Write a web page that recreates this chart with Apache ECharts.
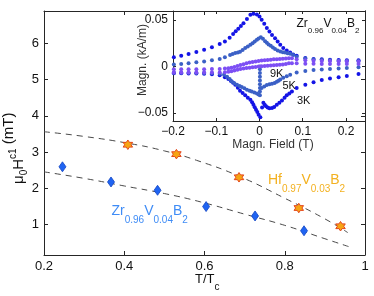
<!DOCTYPE html>
<html><head><meta charset="utf-8">
<script src="https://cdn.jsdelivr.net/npm/echarts@6/dist/echarts.min.js"></script>
<style>html,body{margin:0;padding:0;background:#fff}#c{width:374px;height:296px}</style>
</head><body><div id="c"></div>
<script>
// ---- main plot data ----
const xTicks = [0.2, 0.4, 0.6, 0.8, 1];
const yTicks = [1, 2, 3, 4, 5, 6];
const zrT = [0.246, 0.367, 0.483, 0.604, 0.726, 0.848];
const zrH = [2.59, 2.17, 1.94, 1.49, 1.23, 0.82];
const hfT = [0.409, 0.53, 0.686, 0.835, 0.939];
const hfH = [3.20, 2.94, 2.30, 1.45, 0.945];
const zrFitT = [0.2, 0.3, 0.4, 0.5, 0.59, 0.7, 0.8, 0.9, 0.96];
const zrFitH = [2.45, 2.27, 2.06, 1.85, 1.62, 1.28, 0.97, 0.6, 0.38];
const hfFitT = [0.2, 0.3, 0.41, 0.5, 0.58, 0.686, 0.8, 0.9, 0.957];
const hfFitH = [3.56, 3.43, 3.24, 3.03, 2.77, 2.33, 1.72, 1.15, 0.77];
// ---- inset data (field T, magnetization kA/m) ----
const insetXTicks = [-0.2, -0.1, 0, 0.1, 0.2];
const insetYTicks = [-0.05, 0, 0.05];
const loop3KUp = [[0.229,0.0066],[0.202,0.0068],[0.183,0.007],[0.163,0.0073],[0.144,0.0077],[0.125,0.0082],[0.106,0.0092],[0.086,0.0115],[0.078,0.013],[0.071,0.015],[0.063,0.0172],[0.055,0.0198],[0.048,0.0233],[0.042,0.0269],[0.036,0.0305],[0.029,0.034],[0.023,0.0376],[0.017,0.0413],[0.011,0.046],[0.005,0.0502],[0.0,0.0538],[-0.006,0.056],[-0.014,0.0567],[-0.021,0.0556],[-0.029,0.051],[-0.037,0.0465],[-0.043,0.0435],[-0.049,0.0405],[-0.055,0.038],[-0.061,0.035],[-0.069,0.031],[-0.080,0.027],[-0.092,0.0242],[-0.110,0.0206],[-0.128,0.018],[-0.146,0.0156],[-0.164,0.0134],[-0.181,0.0116],[-0.198,0.0099]];
const loop3KDown = [[-0.198,-0.0072],[-0.181,-0.0073],[-0.164,-0.0074],[-0.146,-0.0076],[-0.128,-0.0079],[-0.110,-0.0084],[-0.092,-0.0095],[-0.080,-0.0115],[-0.072,-0.0135],[-0.066,-0.0155],[-0.061,-0.0175],[-0.056,-0.0196],[-0.050,-0.0228],[-0.045,-0.026],[-0.039,-0.0285],[-0.033,-0.031],[-0.027,-0.0335],[-0.021,-0.0357],[-0.017,-0.0385],[-0.014,-0.041],[-0.011,-0.0438],[-0.008,-0.0465],[-0.005,-0.049],[-0.002,-0.052],[0.002,-0.0546],[0.006,-0.044],[0.009,-0.039],[0.012,-0.041],[0.015,-0.0428],[0.019,-0.044],[0.023,-0.045],[0.029,-0.0445],[0.034,-0.0435],[0.040,-0.041],[0.046,-0.039],[0.052,-0.0365],[0.058,-0.0335],[0.063,-0.031],[0.069,-0.029],[0.075,-0.027],[0.086,-0.023],[0.106,-0.0195],[0.125,-0.017],[0.144,-0.0145],[0.163,-0.013],[0.183,-0.0115],[0.202,-0.0102],[0.229,-0.008]];
const loop5KUp = [[-0.198,0.0022],[-0.181,0.0028],[-0.164,0.0035],[-0.146,0.0045],[-0.128,0.0055],[-0.110,0.0066],[-0.092,0.0082],[-0.080,0.010],[-0.068,0.0124],[-0.062,0.0135],[-0.056,0.0144],[-0.050,0.0152],[-0.045,0.016],[-0.039,0.0178],[-0.033,0.0198],[-0.027,0.0216],[-0.021,0.0233],[-0.016,0.025],[-0.011,0.0268],[-0.006,0.0287],[-0.002,0.0302],[0.003,0.0314],[0.008,0.0298],[0.013,0.0272],[0.017,0.0256],[0.021,0.0238],[0.026,0.0222],[0.031,0.0205],[0.036,0.0188],[0.042,0.0173],[0.048,0.0162],[0.054,0.0154],[0.059,0.015],[0.065,0.0143],[0.071,0.0137],[0.078,0.0125],[0.086,0.0105],[0.106,0.0085],[0.125,0.0075],[0.144,0.007],[0.163,0.0066],[0.183,0.0063],[0.202,0.006],[0.229,0.0058]];
const loop5KDown = [[-0.198,-0.0068],[-0.181,-0.0068],[-0.164,-0.0068],[-0.146,-0.0069],[-0.128,-0.007],[-0.110,-0.0072],[-0.092,-0.0078],[-0.082,-0.0088],[-0.075,-0.011],[-0.069,-0.0135],[-0.064,-0.016],[-0.058,-0.018],[-0.052,-0.0197],[-0.046,-0.021],[-0.041,-0.022],[-0.035,-0.0235],[-0.029,-0.025],[-0.023,-0.026],[-0.018,-0.027],[-0.012,-0.028],[-0.006,-0.029],[-0.002,-0.0302],[0.001,-0.031],[0.001,-0.027],[0.001,-0.023],[0.001,-0.019],[0.001,-0.015],[0.001,-0.011],[0.001,-0.007],[0.001,-0.003],[0.001,0.0],[0.005,-0.023],[0.011,-0.0215],[0.017,-0.020],[0.023,-0.0192],[0.029,-0.0186],[0.035,-0.0176],[0.040,-0.0165],[0.044,-0.0153],[0.048,-0.014],[0.055,-0.0122],[0.063,-0.0104],[0.071,-0.0088],[0.086,-0.0065],[0.106,-0.0048],[0.125,-0.0038],[0.144,-0.0031],[0.163,-0.0026],[0.183,-0.0021],[0.202,-0.0016],[0.229,-0.0008]];
const loop9KUp = [[-0.198,-0.003],[-0.181,-0.003],[-0.164,-0.003],[-0.146,-0.003],[-0.128,-0.003],[-0.110,-0.0028],[-0.092,-0.0026],[-0.080,-0.0022],[-0.072,-0.0018],[-0.065,-0.0012],[-0.058,-0.0005],[-0.051,0.0005],[-0.044,0.0015],[-0.037,0.0025],[-0.030,0.0034],[-0.023,0.0042],[-0.016,0.0049],[-0.009,0.0055],[-0.002,0.006],[0.005,0.0064],[0.012,0.0068],[0.019,0.0071],[0.026,0.0074],[0.033,0.0077],[0.040,0.0079],[0.047,0.0081],[0.054,0.0084],[0.061,0.0087],[0.068,0.0089],[0.075,0.0088],[0.086,0.0078],[0.106,0.0066],[0.125,0.0062],[0.144,0.006],[0.163,0.0058],[0.183,0.0057],[0.202,0.0056],[0.229,0.0055]];
const loop9KDown = [[-0.198,-0.0065],[-0.181,-0.0065],[-0.164,-0.0065],[-0.146,-0.0065],[-0.128,-0.0065],[-0.110,-0.0065],[-0.092,-0.0065],[-0.080,-0.0062],[-0.072,-0.0057],[-0.065,-0.005],[-0.058,-0.0042],[-0.051,-0.0035],[-0.044,-0.0028],[-0.037,-0.0022],[-0.030,-0.0017],[-0.023,-0.0012],[-0.016,-0.0008],[-0.009,-0.0004],[-0.002,0.0],[0.005,0.0002],[0.012,0.0005],[0.019,0.0008],[0.026,0.001],[0.033,0.0013],[0.040,0.0015],[0.047,0.0018],[0.054,0.0022],[0.061,0.0028],[0.068,0.0034],[0.075,0.0036],[0.086,0.0034],[0.106,0.003],[0.125,0.0029],[0.144,0.0028],[0.163,0.0028],[0.183,0.0027],[0.202,0.0027],[0.229,0.0027]];

const FF = '"Liberation Sans", Arial, Helvetica, sans-serif';
const AX = '#262626';
const C3 = '#1414e6', C5 = '#3b60c6', C9 = '#7d4ff4';

function zip(a, b) { return a.map((v, i) => [v, b[i]]); }
function minus(v) { return String(v).replace('-', '\u2212'); }

function axis(grid, pos, min, max, ticks, showLabel, fs, tickLen, fmt) {
  return {
    type: 'value', gridIndex: grid, position: pos, min: min, max: max,
    axisLine: { show: true, onZero: false, lineStyle: { color: AX, width: 1 } },
    axisTick: { show: true, inside: true, length: tickLen, customValues: ticks, lineStyle: { color: AX, width: 1 } },
    axisLabel: { show: showLabel, customValues: ticks, formatter: fmt || (v => minus(v)), fontSize: fs, fontFamily: FF, color: '#111', margin: 5,
                 showMinLabel: true, showMaxLabel: true },
    splitLine: { show: false }
  };
}

const mctx = document.createElement('canvas').getContext('2d');
function tw(t, fs) { mctx.font = fs + 'px ' + FF; return mctx.measureText(t).width; }
function run(parts, x0, y0, color, rot) {
  let x = 0; const children = [];
  parts.forEach(p => {
    children.push({ type: 'text', x: x, y: p[2], silent: true,
      style: { text: p[0], fontSize: p[1], fontFamily: FF, fill: color, align: 'left', verticalAlign: 'middle', textAlign: 'left', textVerticalAlign: 'middle' } });
    x += tw(p[0], p[1]);
  });
  return { type: 'group', x: x0, y: y0, rotation: rot || 0, children: children };
}
function txt(t, x, y, fs, color, align, rot) {
  return { type: 'text', x: x, y: y, rotation: rot || 0, silent: true,
    style: { text: t, fontSize: fs, fontFamily: FF, fill: color, align: align || 'left', verticalAlign: 'middle', textAlign: align || 'left', textVerticalAlign: 'middle' } };
}

const hexagram = 'path://M0,-10 L2.89,-5 L8.66,-5 L5.77,0 L8.66,5 L2.89,5 L0,10 L-2.89,5 L-8.66,5 L-5.77,0 L-8.66,-5 L-2.89,-5 Z';

const chart = echarts.init(document.getElementById('c'), null, { renderer: 'canvas' });
chart.setOption({
  animation: false,
  backgroundColor: '#fff',
  grid: [
    { left: 44, right: 9, top: 11, bottom: 41, show: false },
    { left: 173, right: 9, top: 11, height: 110, show: true, backgroundColor: '#fff', borderWidth: 0 }
  ],
  xAxis: [
    axis(0, 'bottom', 0.2, 1, xTicks, true, 13, 4),
    axis(0, 'top', 0.2, 1, xTicks, false, 13, 4),
    axis(1, 'bottom', -0.2, 0.244, insetXTicks, true, 12, 3),
    axis(1, 'top', -0.2, 0.244, insetXTicks, false, 12, 3)
  ],
  yAxis: [
    axis(0, 'left', 0.15, 6.9, yTicks, true, 13, 4),
    axis(0, 'right', 0.15, 6.9, yTicks, false, 13, 4),
    axis(1, 'left', -0.0586, 0.0597, insetYTicks, true, 12, 3),
    axis(1, 'right', -0.0586, 0.0597, insetYTicks, false, 12, 3)
  ],
  series: [
    { type: 'line', xAxisIndex: 0, yAxisIndex: 0, data: zip(hfFitT, hfFitH), smooth: true, showSymbol: false,
      lineStyle: { color: '#4a4a4a', width: 1, type: [6, 5] }, z: 2 },
    { type: 'line', xAxisIndex: 0, yAxisIndex: 0, data: zip(zrFitT, zrFitH), smooth: true, showSymbol: false,
      lineStyle: { color: '#4a4a4a', width: 1, type: [6, 5] }, z: 2 },
    { type: 'scatter', xAxisIndex: 0, yAxisIndex: 0, data: zip(zrT, zrH), symbol: 'diamond', symbolSize: [7, 10],
      itemStyle: { color: '#1f64f2', borderColor: '#1446c4', borderWidth: 0.8, opacity: 1 }, z: 3 },
    { type: 'scatter', xAxisIndex: 0, yAxisIndex: 0, data: zip(hfT, hfH), symbol: hexagram, symbolSize: 9.5,
      itemStyle: { color: '#f6a414', borderColor: '#e4461c', borderWidth: 1, opacity: 1 }, z: 3 },
    { type: 'scatter', xAxisIndex: 2, yAxisIndex: 2, data: loop3KUp, symbolSize: 4, itemStyle: { color: C3, opacity: 1 }, z: 4 },
    { type: 'scatter', xAxisIndex: 2, yAxisIndex: 2, data: loop3KDown, symbolSize: 4, itemStyle: { color: C3, opacity: 1 }, z: 4 },
    { type: 'scatter', xAxisIndex: 2, yAxisIndex: 2, data: loop5KUp, symbolSize: 4, itemStyle: { color: C5, opacity: 1 }, z: 4 },
    { type: 'scatter', xAxisIndex: 2, yAxisIndex: 2, data: loop5KDown, symbolSize: 4, itemStyle: { color: C5, opacity: 1 }, z: 4 },
    { type: 'scatter', xAxisIndex: 2, yAxisIndex: 2, data: loop9KUp, symbolSize: 4, itemStyle: { color: C9, opacity: 1 }, z: 4 },
    { type: 'scatter', xAxisIndex: 2, yAxisIndex: 2, data: loop9KDown, symbolSize: 4, itemStyle: { color: C9, opacity: 1 }, z: 4 }
  ],
  graphic: [
    run([['\u03bc', 15, 0], ['0', 10, 5], ['H', 15, 0], ['c1', 10, -6], [' (mT)', 15, -10]], 19, 184, '#111', Math.PI / 2),
    run([['T/T', 13, 0], ['c', 10, 8]], 195, 279.5, '#111'),
    run([['Zr', 14, 0], ['0.96', 10, 9], ['V', 14, 0], ['0.04', 10, 9], ['B', 14, 0], ['2', 10, 9]], 111.5, 211, '#3f8cf6'),
    run([['Hf', 14, 0], ['0.97', 10, 9.5], ['V', 14, 0], ['0.03', 10, 9.5], ['B', 14, 0], ['2', 10, 9.5]], 268, 180, '#f3b120'),
    run([['Zr', 12, 0], ['0.96', 8, 7], ['V', 12, 0], ['0.04', 8, 7], ['B', 12, 0], ['2', 8, 7]], 296.5, 23.5, '#111'),
    txt('9K', 270, 73.5, 11, '#111'),
    txt('5K', 282.5, 86.3, 11, '#111'),
    txt('3K', 297, 101.3, 11, '#111'),
    txt('Magn. Field (T)', 273, 145, 12, '#333', 'center'),
    txt('Magn. (kA/m)', 143, 60, 12, '#333', 'center', Math.PI / 2)
  ]
});
</script>
</body></html>
